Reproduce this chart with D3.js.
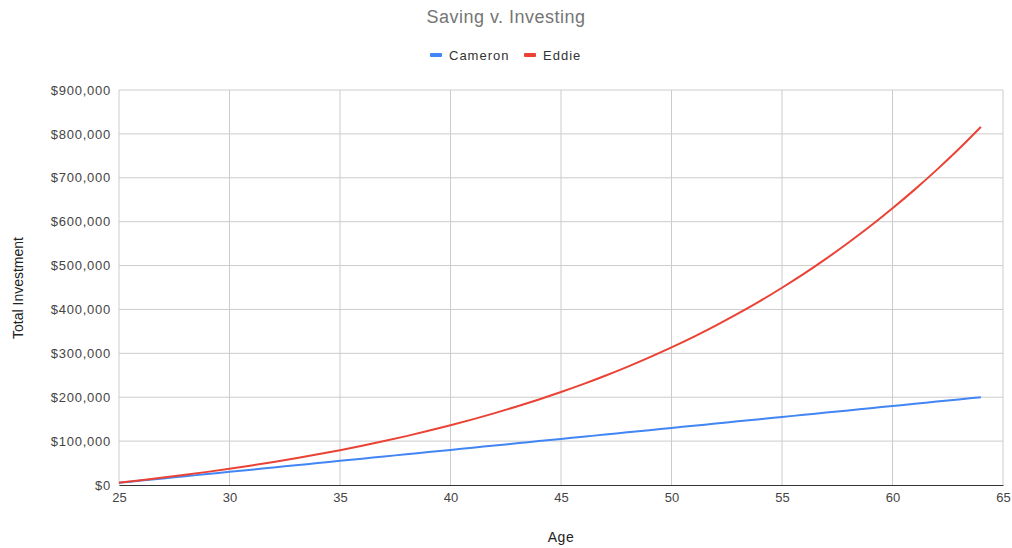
<!DOCTYPE html>
<html>
<head>
<meta charset="utf-8">
<script src="https://cdn.jsdelivr.net/npm/d3@7"></script>
<style>
  body { margin: 0; background: #fff; }
  text { font-family: "Liberation Sans", Arial, sans-serif; }
</style>
</head>
<body>
<div id="chart"></div>
<script>
// ages 25..64
const ages = d3.range(25, 65);
// values (dollars)
const cameron = [
  5000, 10000, 15000, 20000, 25000, 30000, 35000, 40000, 45000, 50000,
  55000, 60000, 65000, 70000, 75000, 80000, 85000, 90000, 95000, 100000,
  105000, 110000, 115000, 120000, 125000, 130000, 135000, 140000, 145000, 150000,
  155000, 160000, 165000, 170000, 175000, 180000, 185000, 190000, 195000, 200000
];
const eddie = [
  5300, 10900, 16900, 23200, 29900, 37000, 44500, 52500, 61000, 69900,
  79400, 89500, 100100, 111400, 123400, 136000, 149500, 163800, 178900, 194900,
  211900, 229900, 249000, 269300, 290800, 313500, 337600, 363100, 390200, 418900,
  449400, 481600, 515800, 552000, 590000, 630500, 673000, 718000, 765500, 816000
];
const seriesNames = ["Cameron", "Eddie"];
const seriesColors = ["#4285f4", "#ea4335"];
const xTicks = [25, 30, 35, 40, 45, 50, 55, 60, 65];
const yTicks = [0, 100000, 200000, 300000, 400000, 500000, 600000, 700000, 800000, 900000];

const W = 1012, H = 548;
const margin = { top: 90, right: 9, bottom: 63, left: 119 };
const width = W - margin.left - margin.right;
const height = H - margin.top - margin.bottom;

const svg = d3.select("#chart").append("svg")
  .attr("width", W)
  .attr("height", H);

const g = svg.append("g")
  .attr("transform", "translate(" + margin.left + "," + margin.top + ")");

const x = d3.scaleLinear().domain([25, 65]).range([0, width]);
const y = d3.scaleLinear().domain([0, 900000]).range([height, 0]);

// grid
g.append("g")
  .selectAll("line")
  .data(yTicks.slice(1))
  .join("line")
  .attr("x1", 0).attr("x2", width)
  .attr("y1", d => y(d)).attr("y2", d => y(d))
  .attr("stroke", "#cccccc");
g.append("g")
  .selectAll("line")
  .data(xTicks)
  .join("line")
  .attr("x1", d => x(d)).attr("x2", d => x(d))
  .attr("y1", 0).attr("y2", height)
  .attr("stroke", "#cccccc");

// y axis labels
const fmt = d => "$" + d3.format(",")(d);
const yAxis = g.append("g")
  .call(d3.axisLeft(y).tickValues(yTicks).tickFormat(fmt).tickSize(0).tickPadding(8));
yAxis.select(".domain").remove();
yAxis.selectAll("text")
  .attr("font-size", 13)
  .attr("letter-spacing", 0.75)
  .attr("fill", "#444");

// x axis
const xAxis = g.append("g")
  .attr("transform", "translate(0," + height + ")")
  .call(d3.axisBottom(x).tickValues(xTicks).tickSize(0).tickPadding(8));
xAxis.select(".domain").attr("stroke", "#333").attr("stroke-width", 1);
xAxis.selectAll("text").attr("font-size", 13).attr("fill", "#444");

// lines
const line = d3.line()
  .x((d, i) => x(ages[i]))
  .y(d => y(d))
  .curve(d3.curveMonotoneX);

[cameron, eddie].forEach((s, i) => {
  g.append("path")
    .datum(s)
    .attr("fill", "none")
    .attr("stroke", seriesColors[i])
    .attr("stroke-width", 2)
    .attr("d", line);
});

// title
svg.append("text")
  .attr("x", 506).attr("y", 23)
  .attr("text-anchor", "middle")
  .attr("font-size", 18)
  .attr("letter-spacing", 0.5)
  .attr("fill", "#757575")
  .text("Saving v. Investing");

// legend
const legend = svg.append("g").attr("transform", "translate(430,55)");
const legendX = [0, 94];
seriesNames.forEach((name, i) => {
  const lg = legend.append("g").attr("transform", "translate(" + legendX[i] + ",0)");
  lg.append("rect")
    .attr("x", 0).attr("y", -2)
    .attr("width", 12).attr("height", 4)
    .attr("rx", 1)
    .attr("fill", seriesColors[i]);
  lg.append("text")
    .attr("x", 19).attr("y", 4.5)
    .attr("font-size", 13)
    .attr("letter-spacing", 1)
    .attr("fill", "#333")
    .text(name);
});

// axis titles
svg.append("text")
  .attr("x", 561).attr("y", 542)
  .attr("text-anchor", "middle")
  .attr("font-size", 14)
  .attr("letter-spacing", 0.5)
  .attr("fill", "#222")
  .text("Age");
svg.append("text")
  .attr("transform", "translate(23," + 288 + ")rotate(-90)")
  .attr("text-anchor", "middle")
  .attr("font-size", 14)
  .attr("fill", "#222")
  .text("Total Investment");
</script>
</body>
</html>
